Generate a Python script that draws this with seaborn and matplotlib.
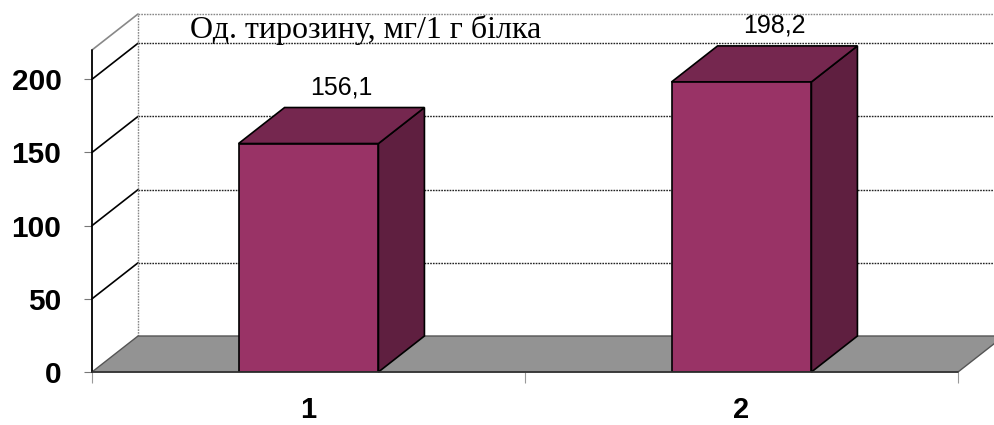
import numpy as np
import matplotlib
matplotlib.use("Agg")
import matplotlib.pyplot as plt
import seaborn as sns

# ---- data ----
categories = ["1", "2"]
values = [156.1, 198.2]
value_labels = ["156,1", "198,2"]
y_ticks = [0, 50, 100, 150, 200]
y_tick_labels = ["0", "50", "100", "150", "200"]
title = "Од. тирозину, мг/1 г білка"

# ---- style ----
sns.set_style("white")
plt.rcParams["font.family"] = ["Liberation Sans", "DejaVu Sans"]
plt.rcParams["text.color"] = "black"

FRONT = "#993366"
TOP = "#75274f"
SIDE = "#5f1f40"
FLOOR = "#939393"
DEPTH_PX = (46, 36)          # oblique depth offset of the 3-D box, in pixels

fig = plt.figure(figsize=(9.95, 4.25), dpi=100)
W, H = 995, 425
ax = fig.add_axes([92 / W, (H - 372) / H, 866 / W, (372 - 50) / H])

df = {"cat": categories, "val": values}
sns.barplot(x="cat", y="val", data=df, color=FRONT, saturation=1, width=0.323,
            edgecolor="black", linewidth=1.2, ax=ax, zorder=5)
for p in ax.patches:
    p.set_zorder(5)

ax.set_xlim(-0.5, 1.5)
ax.set_ylim(0, 220)

# depth offset expressed in data units
p0 = ax.transData.transform((0, 0))
DX, DY = ax.transData.inverted().transform(p0 + np.array(DEPTH_PX))


def poly(pts, **kw):
    xs, ys = zip(*pts)
    ax.fill(xs, ys, clip_on=False, **kw)


x0, x1 = ax.get_xlim()
ytop = ax.get_ylim()[1]

# back wall gridlines and outline
for v in y_ticks[1:]:
    ax.plot([x0 + DX, x1 + DX + 1], [v + DY, v + DY], color="#222222",
            lw=1.0, ls=(0, (1.2, 0.8)), clip_on=False, zorder=1)
    # side wall gridlines
    ax.plot([x0, x0 + DX], [v, v + DY], color="black", lw=1.2,
            clip_on=False, zorder=1)
ax.plot([x0 + DX, x0 + DX], [DY, ytop + DY], color="#888888", lw=1.0,
        ls=(0, (1.2, 0.8)), clip_on=False, zorder=1)
ax.plot([x0 + DX, x1 + DX + 1], [ytop + DY, ytop + DY], color="#888888", lw=1.0,
        ls=(0, (1.2, 0.8)), clip_on=False, zorder=1)
ax.plot([x0, x0 + DX], [ytop, ytop + DY], color="#888888", lw=1.2,
        clip_on=False, zorder=1)
ax.plot([x0, x0], [0, ytop], color="black", lw=1.3, clip_on=False, zorder=6)

# floor
poly([(x0, 0), (x1, 0), (x1 + DX, DY), (x0 + DX, DY)], facecolor=FLOOR,
     edgecolor="#555555", linewidth=1.0, zorder=2)
ax.plot([x0, x1], [0, 0], color="#333333", lw=1.2, clip_on=False, zorder=6)

# top and side faces of each bar
for p, lab, v in zip(ax.patches, value_labels, values):
    bx0 = p.get_x()
    bx1 = bx0 + p.get_width()
    poly([(bx1, 0), (bx1 + DX, DY), (bx1 + DX, v + DY), (bx1, v)],
         facecolor=SIDE, edgecolor="black", linewidth=1.2, zorder=4)
    poly([(bx0, v), (bx1, v), (bx1 + DX, v + DY), (bx0 + DX, v + DY)],
         facecolor=TOP, edgecolor="black", linewidth=1.2, zorder=4)
    ax.annotate(lab, ((bx0 + bx1) / 2 + DX / 2, v + DY), xytext=(7, 6),
                textcoords="offset points", ha="center", va="bottom",
                fontsize=18, color="black", annotation_clip=False)

# axes decoration
sns.despine(ax=ax, left=True, bottom=True, top=True, right=True)
ax.set_xlabel("")
ax.set_ylabel("")
ax.set_yticks(y_ticks)
ax.set_yticklabels(y_tick_labels, fontsize=21.5, fontweight="bold")
ax.tick_params(axis="y", length=6, width=0.8, color="#777777", pad=16, left=True,
               labelcolor="black")
ax.set_xticks(range(len(categories)))
ax.set_xticklabels(categories, fontsize=21, fontweight="bold")
ax.tick_params(axis="x", length=0, pad=17.5, labelcolor="black")
ax.set_xticks([-0.5, 0.5, 1.5], minor=True)
ax.tick_params(axis="x", which="minor", length=8, width=0.8, color="#999999",
               bottom=True)

ax.text((190 - 92) / 866, (372 - 38) / 322, title, transform=ax.transAxes,
        family=["Liberation Serif", "DejaVu Serif"], fontsize=23, color="black",
        ha="left", va="baseline", zorder=0)

fig.savefig("out.png", dpi=100)
